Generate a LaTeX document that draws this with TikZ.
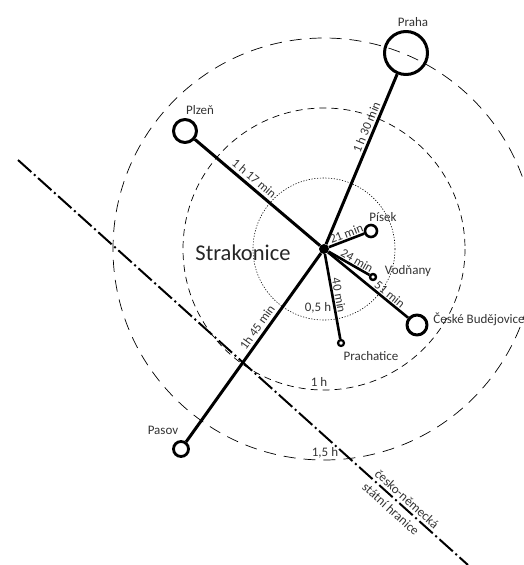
\documentclass[tikz,border=0pt]{standalone}
\usepackage{fontspec}
\setmainfont{Carlito}
\tikzset{
	city/.style={circle, draw, inner sep=0pt, line width=#1},
	road/.style={line width=3pt},
	minorroad/.style={line width=2.6pt},
	tlabel/.style={font=\fontsize{12.5}{14}\selectfont, text=black!80, inner sep=0pt},
	clabel/.style={font=\fontsize{13}{15}\selectfont, text=black!80, inner sep=0pt},
	hlabel/.style={font=\fontsize{13}{15}\selectfont, text=black!80, inner sep=0pt},
}
\begin{document}
\begin{tikzpicture}[x=1pt, y=-1pt, line join=round]
	\useasboundingbox (0,0) rectangle (524,565);
	% isochrones
	\path (324,249) coordinate (O);
	\draw[dash pattern=on 1.2pt off 1.6pt, line width=0.6pt] (O) circle (71);
	\draw[dash pattern=on 7pt off 5pt, line width=0.7pt] (O) circle (141);
	\draw[dash pattern=on 12pt off 8pt, line width=0.7pt] (O) circle (211);
	% cities
	\node[circle, fill, inner sep=0pt, minimum size=10pt] (str) at (O) {};
	\node[city=3pt, minimum size=43pt] (praha) at (406,53) {};
	\node[city=3pt, minimum size=23pt] (plzen) at (185,131) {};
	\node[city=2.6pt, minimum size=12pt] (pisek) at (371,231) {};
	\node[city=2.4pt, minimum size=6pt] (vodnany) at (373,277) {};
	\node[city=3pt, minimum size=20pt] (cb) at (417,325) {};
	\node[city=2.2pt, minimum size=6pt] (prach) at (341,343) {};
	\node[city=2.8pt, minimum size=15pt] (pasov) at (181,449) {};
	% roads
	\draw[road] (str)--(praha) node[tlabel, sloped, pos=0.67, above=2pt]{1 h 30 min};
	\draw[road] (str)--(plzen) node[tlabel, sloped, pos=0.57, above=3pt]{1 h 17 min};
	\draw[road] (str)--(pasov) node[tlabel, sloped, pos=0.42, above=3pt]{1h 45 min};
	\draw[minorroad] (str)--(pisek) node[tlabel, sloped, pos=0.56, above=1pt]{21 min};
	\draw[minorroad] (str)--(vodnany) node[tlabel, sloped, pos=0.62, above=1pt]{24 min};
	\draw[minorroad] (str)--(cb) node[tlabel, sloped, pos=0.72, above=1pt]{51 min};
	\draw[minorroad] (str)--(prach) node[tlabel, sloped, pos=0.5, above=1pt]{40 min};
	% border
	\coordinate (b1) at (18,160);
	\coordinate (b2) at (468,565);
	\draw[line width=2pt, dash pattern=on 18pt off 3.5pt on 2pt off 3.5pt] (b1)--(b2);
	\node[clabel, rotate=-42] at (407,499) {česko-německá};
	\node[clabel, rotate=-42] at (391,509) {státní hranice};
	% labels
	\foreach \p/\q/\t in {413/22/Praha, 200/110/Plzeň, 383/217/Písek, 408/271/Vodňany, 479/319/České Budějovice, 371/356/Prachatice, 163/430/Pasov}{
		\node[clabel] at (\p,\q) {\t};}
	\node[font=\fontsize{22.5}{26}\selectfont, text=black!85, inner sep=0pt] at (243,253) {Strakonice};
	\foreach \p/\q/\t in {318/308/{0,5 h}, 319/382/{1 h}, 325/453/{1,5 h}}{
		\node[hlabel] at (\p,\q) {\t};}
\end{tikzpicture}
\end{document}
